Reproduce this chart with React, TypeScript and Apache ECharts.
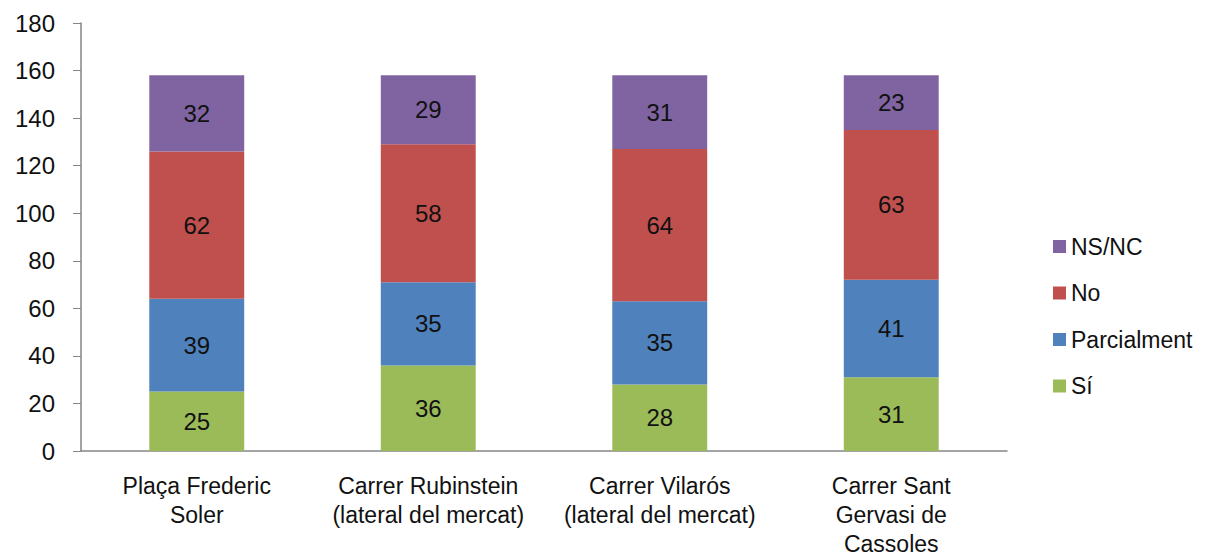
import React, { useEffect, useRef } from "react";
import * as echarts from "echarts";

const categories = [
  "Plaça Frederic\nSoler",
  "Carrer Rubinstein\n(lateral del mercat)",
  "Carrer Vilarós\n(lateral del mercat)",
  "Carrer Sant\nGervasi de\nCassoles",
];
const si = [25, 36, 28, 31];
const parcialment = [39, 35, 35, 41];
const no = [62, 58, 64, 63];
const nsnc = [32, 29, 31, 23];
const legendOrder = ["NS/NC", "No", "Parcialment", "Sí"];

const FONT = "'Liberation Sans', Arial, sans-serif";

export default function App() {
  const ref = useRef<HTMLDivElement>(null);
  useEffect(() => {
    if (!ref.current) return;
    const chart = echarts.init(ref.current, undefined, { renderer: "svg" });
    const label = {
      show: true,
      position: "inside",
      color: "#111",
      fontSize: 24,
      fontFamily: FONT,
    };
    const mk = (name: string, data: number[], color: string) => ({
      name,
      type: "bar",
      stack: "total",
      data,
      barWidth: "41%",
      itemStyle: { color },
      label,
    });
    chart.setOption({
      animation: false,
      backgroundColor: "#fff",
      textStyle: { fontFamily: FONT },
      grid: { left: 81, right: 208, top: 23, bottom: 107 },
      legend: {
        orient: "vertical",
        left: 1048,
        top: 230,
        itemWidth: 13,
        itemHeight: 13,
        itemGap: 23.5,
        icon: "rect",
        data: legendOrder,
        textStyle: { fontSize: 23, color: "#111", lineHeight: 23, fontFamily: FONT },
      },
      xAxis: {
        type: "category",
        data: categories,
        axisTick: { show: false },
        axisLine: { lineStyle: { color: "#868686", width: 1.5 } },
        axisLabel: {
          interval: 0,
          margin: 20,
          fontSize: 23,
          lineHeight: 29,
          color: "#111",
          fontFamily: FONT,
        },
      },
      yAxis: {
        type: "value",
        min: 0,
        max: 180,
        interval: 20,
        splitLine: { show: false },
        axisLine: { show: true, lineStyle: { color: "#868686", width: 1.5 } },
        axisTick: { show: true, length: 8, lineStyle: { color: "#868686" } },
        axisLabel: { margin: 26, fontSize: 24, color: "#111", fontFamily: FONT },
      },
      series: [
        mk("Sí", si, "#9BBB59"),
        mk("Parcialment", parcialment, "#4F81BD"),
        mk("No", no, "#C0504D"),
        mk("NS/NC", nsnc, "#8064A2"),
      ],
    });
    return () => chart.dispose();
  }, []);
  return (
    <div
      ref={ref}
      style={{ position: "fixed", left: 0, top: 0, width: 1215, height: 558, background: "#fff" }}
    />
  );
}
